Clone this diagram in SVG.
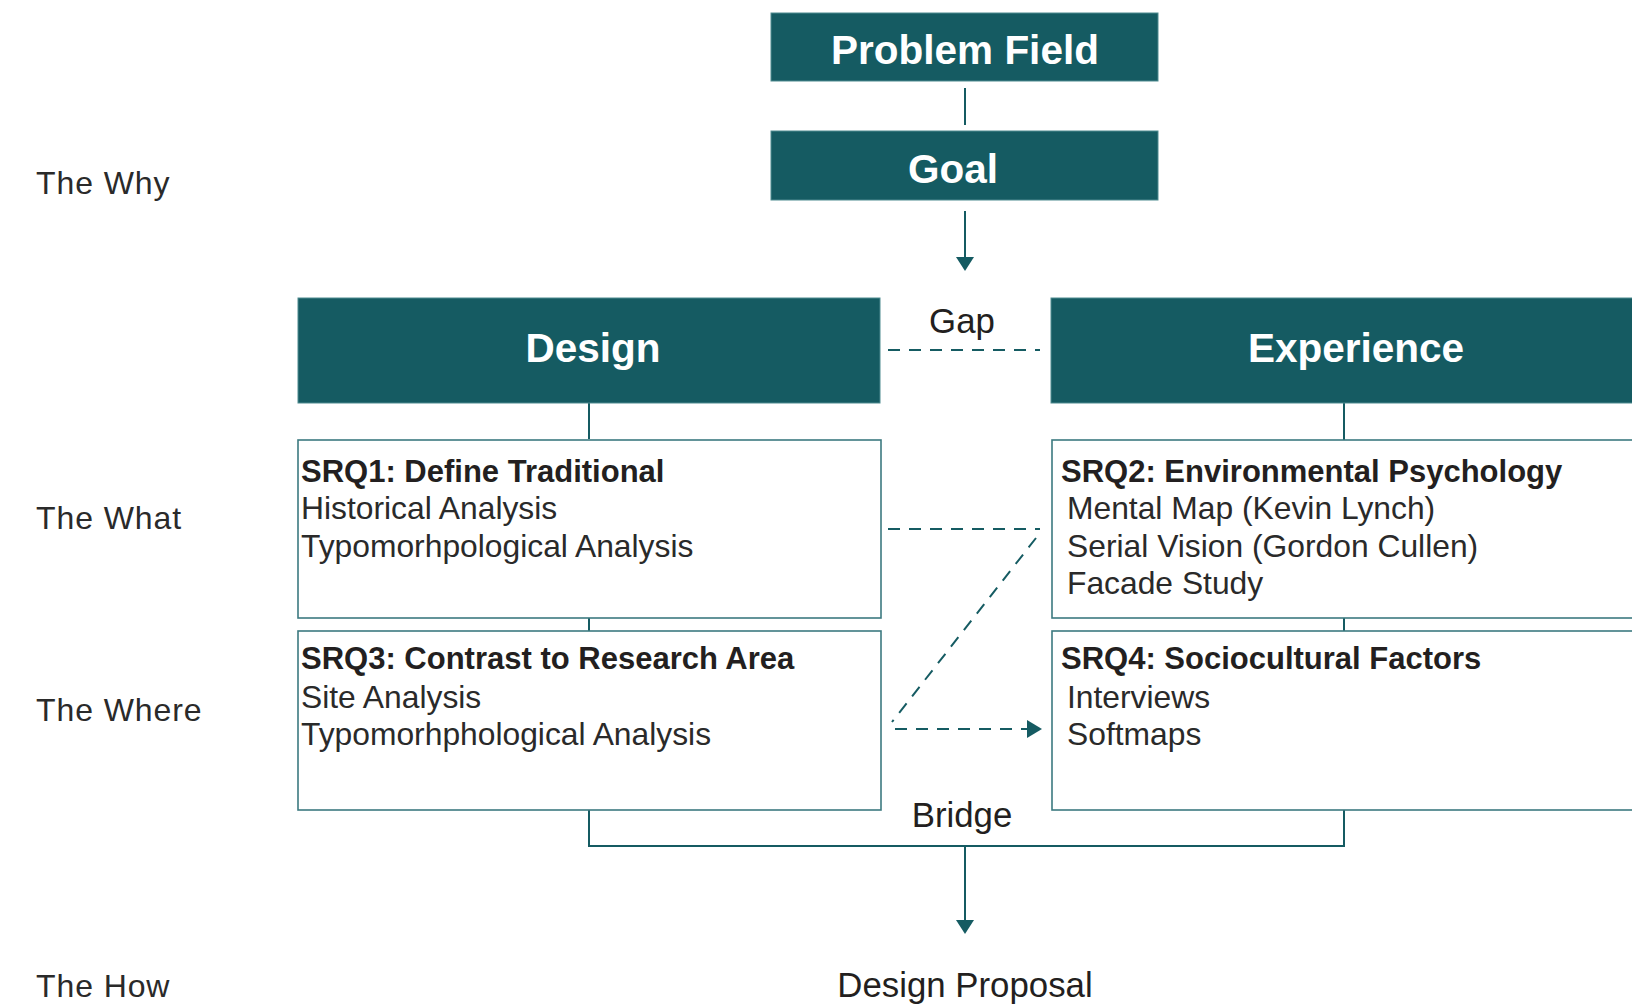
<svg xmlns="http://www.w3.org/2000/svg" width="1632" height="1005" viewBox="0 0 1632 1005">
  <style>
    .solid { fill: #155b62; stroke: #4f8b90; stroke-width: 1; }
    .box { fill: #ffffff; stroke: #3c7a80; stroke-width: 1.6; }
    .htitle { font-family: "Liberation Sans", Arial, sans-serif; font-weight: bold; font-size: 40.5px; fill: #ffffff; text-anchor: middle; }
    .srq { font-family: "Liberation Sans", Arial, sans-serif; font-weight: bold; font-size: 31px; fill: #231f20; }
    .item { font-family: "Liberation Sans", Arial, sans-serif; font-size: 31.8px; fill: #2a2a2a; }
    .side { font-family: "Liberation Sans", Arial, sans-serif; font-size: 32px; fill: #2a2a2a; letter-spacing: 0.9px; }
    .lbl { font-family: "Liberation Sans", Arial, sans-serif; font-size: 34.8px; fill: #231f20; text-anchor: middle; }
    .line { fill: none; stroke: #155b62; stroke-width: 2; }
    .dash { fill: none; stroke: #155b62; stroke-width: 2; stroke-dasharray: 12 9; }
  </style>
  <rect width="1632" height="1005" fill="#ffffff"/>

  <g id="side-labels">
    <text class="side" x="36" y="194">The Why</text>
    <text class="side" x="36" y="529">The What</text>
    <text class="side" x="36" y="721">The Where</text>
    <text class="side" x="36" y="997">The How</text>
  </g>

  <g id="connectors">
    <line class="line" x1="965" y1="88" x2="965" y2="125"/>
    <line class="line" x1="965" y1="211" x2="965" y2="258"/>
    <path d="M956,257 L974,257 L965,271 Z" fill="#155b62"/>
    <line class="dash" x1="888" y1="350" x2="1040" y2="350"/>
    <line class="line" x1="589" y1="403" x2="589" y2="439"/>
    <line class="line" x1="589" y1="618" x2="589" y2="631"/>
    <line class="line" x1="1344" y1="403" x2="1344" y2="440"/>
    <line class="line" x1="1344" y1="618" x2="1344" y2="631"/>
    <line class="dash" x1="888" y1="529" x2="1040" y2="529"/>
    <line class="dash" x1="1036" y1="538" x2="892" y2="722"/>
    <line class="dash" x1="895" y1="729" x2="1028" y2="729"/>
    <path d="M1027,720 L1042,729 L1027,738 Z" fill="#155b62"/>
    <path class="line" d="M589,810 L589,846 L1344,846 L1344,810"/>
    <line class="line" x1="965" y1="846" x2="965" y2="920"/>
    <path d="M956,920 L974,920 L965,934 Z" fill="#155b62"/>
    <text class="lbl" x="962" y="333">Gap</text>
    <text class="lbl" x="962" y="827">Bridge</text>
  </g>

  <g id="problem-field">
    <rect class="solid" x="771" y="13" width="387" height="68"/>
    <text class="htitle" x="965" y="64">Problem Field</text>
  </g>
  <g id="goal">
    <rect class="solid" x="771" y="131" width="387" height="69"/>
    <text class="htitle" x="953" y="183">Goal</text>
  </g>
  <g id="design">
    <rect class="solid" x="298" y="298" width="582" height="105"/>
    <text class="htitle" x="593" y="362">Design</text>
  </g>
  <g id="experience">
    <rect class="solid" x="1051" y="298" width="600" height="105"/>
    <text class="htitle" x="1356" y="362">Experience</text>
  </g>

  <g id="srq1">
    <rect class="box" x="298" y="440" width="583" height="178"/>
    <text class="srq" x="301" y="482">SRQ1: Define Traditional</text>
    <text class="item" x="301" y="519">Historical Analysis</text>
    <text class="item" x="301" y="557">Typomorhpological Analysis</text>
  </g>
  <g id="srq2">
    <rect class="box" x="1052" y="440" width="600" height="178"/>
    <text class="srq" x="1061" y="482">SRQ2: Environmental Psychology</text>
    <text class="item" x="1067" y="519">Mental Map (Kevin Lynch)</text>
    <text class="item" x="1067" y="557">Serial Vision (Gordon Cullen)</text>
    <text class="item" x="1067" y="594">Facade Study</text>
  </g>
  <g id="srq3">
    <rect class="box" x="298" y="631" width="583" height="179"/>
    <text class="srq" x="301" y="669">SRQ3: Contrast to Research Area</text>
    <text class="item" x="301" y="708">Site Analysis</text>
    <text class="item" x="301" y="745">Typomorhphological Analysis</text>
  </g>
  <g id="srq4">
    <rect class="box" x="1052" y="631" width="600" height="179"/>
    <text class="srq" x="1061" y="669">SRQ4: Sociocultural Factors</text>
    <text class="item" x="1067" y="708">Interviews</text>
    <text class="item" x="1067" y="745">Softmaps</text>
  </g>

  <g id="design-proposal">
    <text class="lbl" x="965" y="997">Design Proposal</text>
  </g>
</svg>
